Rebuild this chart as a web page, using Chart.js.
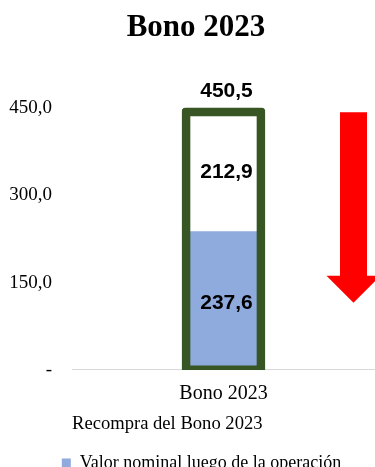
<!DOCTYPE html>
<html>
<head>
<meta charset="utf-8">
<script src="https://cdn.jsdelivr.net/npm/chart.js@4"></script>
<style>
  body { margin: 0; background: #fff; }
  #wrap { width: 375px; height: 467px; position: relative; }
</style>
</head>
<body>
<div id="wrap"><canvas id="chart"></canvas></div>
<script>
const categories = ['Bono 2023'];
const remaining = [237.6];    // Valor nominal luego de la operación
const repurchased = [212.9];  // parte recomprada
const total = [450.5];        // valor antes de la operación
const yTicks = [0, 150, 300, 450];

const serif = '"Liberation Serif", "Times New Roman", serif';

function fmt(v) {
    return v.toFixed(1).replace('.', ',');
}

// etiquetas de valores sobre las barras
const valueLabels = {
    id: 'valueLabels',
    afterDatasetsDraw(chart) {
        const ctx = chart.ctx;
        ctx.save();
        ctx.font = 'bold 21px "Liberation Sans", Arial, sans-serif';
        ctx.fillStyle = '#000';
        ctx.textAlign = 'center';
        ctx.textBaseline = 'middle';
        [1, 2].forEach(di => {
            chart.getDatasetMeta(di).data.forEach((bar, i) => {
                const v = chart.data.datasets[di].data[i];
                ctx.fillText(fmt(v), bar.x + 3, (bar.y + bar.base) / 2 + 2);
            });
        });
        chart.getDatasetMeta(0).data.forEach((bar, i) => {
            ctx.fillText(fmt(total[i]), bar.x + 3, bar.y - 17);
        });
        ctx.restore();
    }
};

// flecha roja a la derecha
const redArrow = {
    id: 'redArrow',
    afterDatasetsDraw(chart) {
        const ctx = chart.ctx;
        const y = chart.scales.y;
        const cx = chart.chartArea.right - 21.5;
        const top = y.getPixelForValue(443);
        const headBase = y.getPixelForValue(162);
        const tip = y.getPixelForValue(115.5);
        ctx.save();
        ctx.fillStyle = '#FF0000';
        ctx.beginPath();
        ctx.moveTo(cx - 13.5, top);
        ctx.lineTo(cx + 13.5, top);
        ctx.lineTo(cx + 13.5, headBase);
        ctx.lineTo(cx + 27, headBase);
        ctx.lineTo(cx, tip);
        ctx.lineTo(cx - 27, headBase);
        ctx.lineTo(cx - 13.5, headBase);
        ctx.closePath();
        ctx.fill();
        ctx.restore();
    }
};

// titulo y leyenda algo corridos a la derecha, como en el original
const nudge = {
    id: 'nudge',
    afterLayout(chart) {
        chart.titleBlock.left += 4.5;
        chart.titleBlock.right += 4.5;
        chart.legend.left += 10;
        chart.legend.right += 10;
    }
};

new Chart(document.getElementById('chart'), {
    type: 'bar',
    data: {
        labels: categories,
        datasets: [
            {
                label: 'Total',
                data: total,
                stack: 'total',
                grouped: false,
                barThickness: 83,
                backgroundColor: 'rgba(0,0,0,0)',
                borderColor: '#375623',
                borderWidth: { top: 8, left: 8, right: 8, bottom: 4 },
                borderSkipped: false,
                borderRadius: { topLeft: 4, topRight: 4 }
            },
            {
                label: 'Valor nominal luego de la operación',
                data: remaining,
                stack: 'parts',
                grouped: false,
                barThickness: 68,
                backgroundColor: '#8FAADC',
                borderWidth: 0
            },
            {
                label: 'Recompra',
                data: repurchased,
                stack: 'parts',
                grouped: false,
                barThickness: 68,
                backgroundColor: '#FFFFFF',
                borderWidth: 0
            }
        ]
    },
    options: {
        responsive: true,
        maintainAspectRatio: false,
        animation: false,
        layout: { padding: { left: 8, right: 0, top: 0, bottom: -15 } },
        plugins: {
            title: {
                display: true,
                text: 'Bono 2023',
                color: '#000',
                font: { family: serif, size: 31, weight: 'bold' },
                padding: { top: 9, bottom: 32.8 }
            },
            legend: {
                position: 'bottom',
                labels: {
                    color: '#000',
                    font: { family: serif, size: 18 },
                    boxWidth: 9,
                    boxHeight: 9,
                    padding: 4,
                    filter: item => item.datasetIndex === 1
                }
            },
            tooltip: { enabled: false }
        },
        scales: {
            x: {
                grid: { display: false, drawTicks: false },
                border: { display: true, color: '#D9D9D9', width: 1 },
                ticks: { color: '#000', font: { family: serif, size: 20 }, padding: 12 },
                title: {
                    display: true,
                    text: 'Recompra del Bono 2023',
                    align: 'start',
                    color: '#000',
                    font: { family: serif, size: 18.6 },
                    padding: { top: -5.2, bottom: 15 }
                }
            },
            y: {
                stacked: true,
                min: 0,
                max: 500,
                grid: { display: false, drawTicks: false },
                border: { display: false },
                afterBuildTicks: s => { s.ticks = yTicks.map(v => ({ value: v })); },
                afterFit: s => { s.width = 64; },
                ticks: {
                    padding: 20,
                    color: '#000',
                    font: { family: serif, size: 19 },
                    callback: v => v === 0 ? '-' : fmt(v)
                }
            }
        }
    },
    plugins: [valueLabels, redArrow, nudge]
});
</script>
</body>
</html>
